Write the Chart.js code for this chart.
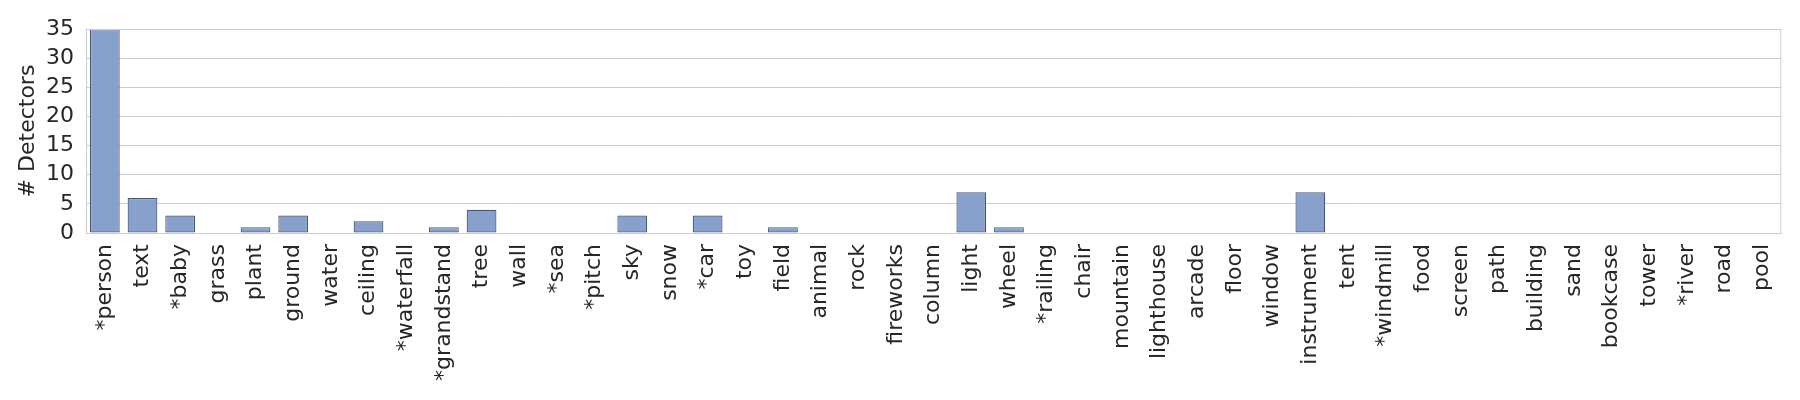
<!DOCTYPE html>
<html>
<head>
<meta charset="utf-8">
<script src="https://cdn.jsdelivr.net/npm/chart.js@4/dist/chart.umd.min.js"></script>
<style>
html,body{margin:0;padding:0;background:#fff;}
#wrap{width:1800px;height:400px;position:relative;}
</style>
</head>
<body>
<div id="wrap"><canvas id="c" width="1800" height="400"></canvas></div>
<script>
const categories = ["*person","text","*baby","grass","plant","ground","water","ceiling","*waterfall","*grandstand","tree","wall","*sea","*pitch","sky","snow","*car","toy","field","animal","rock","fireworks","column","light","wheel","*railing","chair","mountain","lighthouse","arcade","floor","window","instrument","tent","*windmill","food","screen","path","building","sand","bookcase","tower","*river","road","pool"];
const detectors = [35,6,3,0,1,3,0,2,0,1,4,0,0,0,3,0,3,0,1,0,0,0,0,7,1,0,0,0,0,0,0,0,7,0,0,0,0,0,0,0,0,0,0,0,0];
const yTicks = [0,5,10,15,20,25,30,35];
const yLabel = "# Detectors";

const frame = {
  id:'frame',
  afterDraw(chart){
    const a = chart.chartArea, ctx = chart.ctx;
    ctx.save();
    ctx.strokeStyle = '#cccccc';
    ctx.lineWidth = 1;
    ctx.strokeRect(a.left+0.5, a.top+0.5, a.right-a.left-1, a.bottom-a.top);
    ctx.restore();
  }
};

new Chart(document.getElementById('c'), {
  type:'bar',
  data:{
    labels:categories,
    datasets:[{
      data:detectors,
      backgroundColor:'#88a1cc',
      borderColor:'#4a5673',
      borderWidth:1.2,
      borderSkipped:false,
      categoryPercentage:1,
      barPercentage:0.79
    }]
  },
  options:{
    responsive:false,
    animation:false,
    devicePixelRatio:1,
    layout:{padding:{top:29,right:17,left:0,bottom:0}},
    plugins:{legend:{display:false},tooltip:{enabled:false}},
    scales:{
      x:{
        grid:{display:false,drawTicks:false},
        border:{color:'#cccccc'},
        ticks:{
          autoSkip:false,minRotation:90,maxRotation:90,padding:11,
          color:'#262626',font:{family:'DejaVu Sans',size:22}
        },
        afterFit(s){ s.height = 167; }
      },
      y:{
        min:0,max:35,
        afterBuildTicks(s){ s.ticks = yTicks.map(v=>({value:v})); },
        grid:{color:'#cccccc',lineWidth:1,drawTicks:false},
        border:{color:'#cccccc'},
        ticks:{autoSkip:false,padding:12,color:'#262626',font:{family:'DejaVu Sans',size:22}},
        title:{display:true,text:yLabel,color:'#262626',font:{family:'DejaVu Sans',size:22},padding:{top:15,bottom:0}},
        afterFit(s){ s.width = 86; }
      }
    }
  },
  plugins:[frame]
});
</script>
</body>
</html>
